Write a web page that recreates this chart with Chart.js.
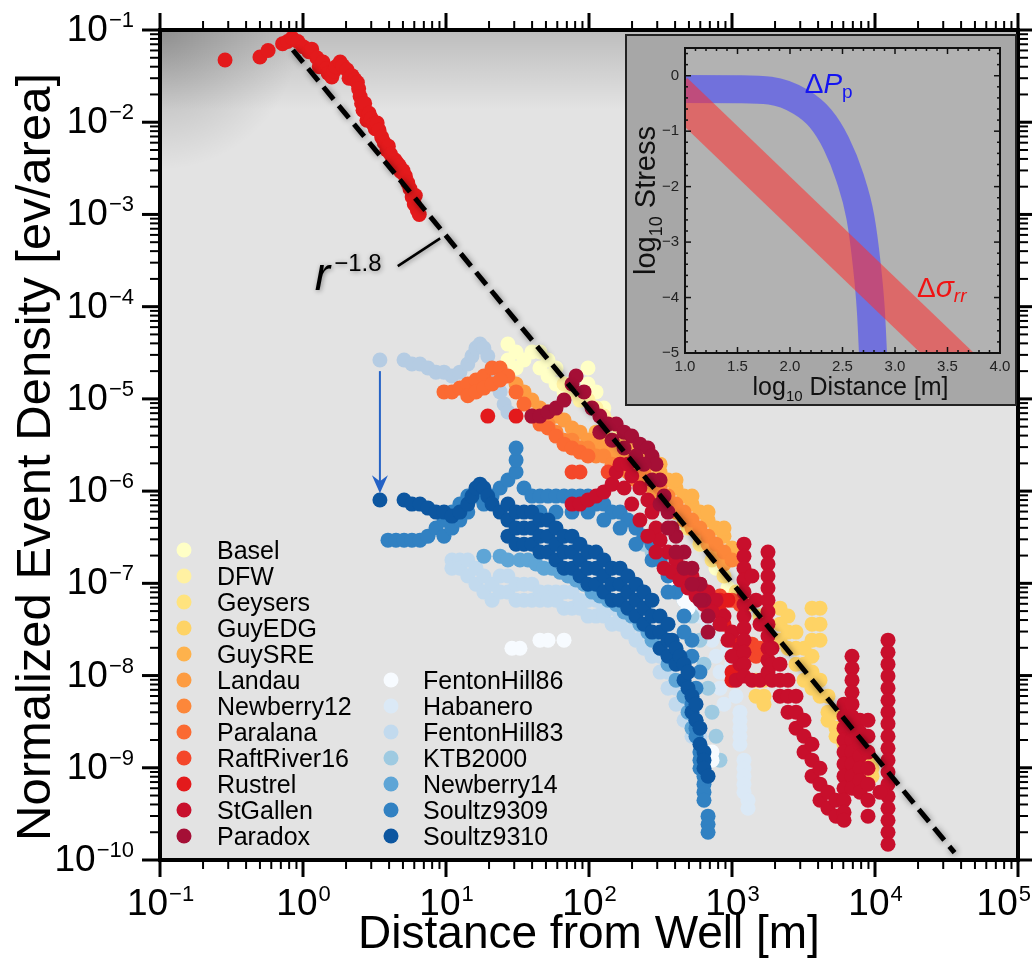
<!DOCTYPE html>
<html>
<head>
<meta charset="utf-8">
<script src="https://cdn.jsdelivr.net/npm/chart.js@4.4.1/dist/chart.umd.min.js"></script>
<style>
  html, body { margin: 0; padding: 0; background: #fff; }
  #wrap { position: relative; width: 1032px; height: 960px; }
  #main { position: absolute; left: 0; top: 0; }
  #inset { position: absolute; left: 625px; top: 34px; }
</style>
</head>
<body>
<div id="wrap">
  <canvas id="main" width="1032" height="960"></canvas>
  <canvas id="inset" width="392" height="372"></canvas>
</div>
<script>
// ---- data: [distance m, normalized event density] ----
const basel = [[27.1,3.93e-5],[27.1,2.64e-5],[30.9,3.22e-5],[30.9,2.16e-5],[35.1,2.64e-5],[39.9,3.22e-5],[45.4,3.22e-5],[45.4,2.16e-5],[51.7,2.64e-5],[51.7,1.77e-5],[58.8,2.16e-5],[58.8,1.45e-5],[66.9,1.45e-5],[66.9,1.19e-5],[98.4,2.16e-5],[98.4,1.45e-5],[112,1.19e-5],[127,7.95e-6],[165,4.36e-6],[213,2.93e-6],[276,1.61e-6],[357,8.83e-7],[462,4.85e-7],[597,2.66e-7],[773,1.46e-7],[937,8.9e-8],[1067,6.57e-8]];
const dfw = [[66.9,1.45e-5],[76.1,1.19e-5],[86.5,9.7e-6],[98.4,9.7e-6],[112,7.95e-6],[127,6.51e-6],[145,5.33e-6],[165,4.36e-6]];
const geysers = [[227,1.96e-6],[276,1.32e-6],[335,8.83e-7],[406,5.92e-7],[493,3.97e-7],[597,2.66e-7],[725,1.79e-7],[879,1.2e-7],[1067,8.03e-8],[1294,5.9e-8],[1570,4.41e-8]];
const guyEDG = [
  [2167,5.38e-8],[2167,3.61e-8],[2167,2.42e-8],
  [2464,4.41e-8],[2464,2.96e-8],[2464,1.98e-8],
  [2803,2.96e-8],[2803,1.98e-8],[2803,1.33e-8],
  [3189,1.98e-8],[3189,1.33e-8],[3189,8.91e-9],
  [3627,5.38e-8],[3627,3.61e-8],[3627,2.42e-8],[3627,1.62e-8],[3627,1.09e-8],[3627,7.3e-9],
  [4125,5.38e-8],[4125,3.61e-8],[4125,2.42e-8],[4125,8.91e-9],[4125,5.98e-9],
  [4692,5.98e-9],[4692,4.01e-9],[4692,3.28e-9],
  [5338,4.01e-9],[5338,2.69e-9],[5338,2.2e-9],
  [6071,2.69e-9],[6071,1.8e-9],[6906,1.8e-9],[6906,1.48e-9],
  [7856,1.48e-9],[7856,1.21e-9],[8935,1.21e-9],[8935,9.9e-10],[9530,9.9e-10],[9530,8.11e-10],
  [1472,8.91e-9],[1472,5.98e-9],[1674,8.91e-9],[1674,5.98e-9],[1674,4.9e-9]];
const guySRE = [[112,4.36e-6],[127,3.95e-6],[145,3.57e-6],[165,3.23e-6],[187,2.93e-6],[213,2.65e-6],[242,2.4e-6],[276,1.96e-6],[314,1.61e-6],[357,1.32e-6],[406,1.08e-6],[462,8.83e-7],[525,7.23e-7],[597,5.92e-7],[680,4.85e-7],[773,3.97e-7],[879,3.25e-7],[1000,2.41e-7],[1137,1.79e-7],
  [242,2.93e-6],[314,1.96e-6],[406,1.32e-6],[525,8.83e-7],[680,5.92e-7],[879,3.97e-7]];
const landau = [[30.9,1.45e-5],[35.1,1.19e-5],[39.9,9.7e-6],[45.4,7.95e-6],[51.7,7.2e-6],[58.8,6.51e-6],[66.9,5.89e-6],[76.1,4.83e-6],[86.5,4.36e-6],[98.4,3.57e-6],[112,3.23e-6],[127,2.93e-6],[145,2.65e-6],[165,2.4e-6],[187,2.17e-6],[213,1.96e-6],[242,1.32e-6],[276,1.08e-6],[314,8.83e-7],[357,7.23e-7],[406,5.92e-7],[462,4.85e-7],[525,3.97e-7],[597,3.25e-7],[680,2.66e-7],[773,1.97e-7],[879,1.62e-7]];
const newberry12 = [[51.7,5.33e-6],[58.8,4.36e-6],[66.9,3.57e-6],[76.1,3.57e-6],[86.5,2.93e-6],[98.4,2.93e-6],[112,2.4e-6],[127,2.4e-6],[145,1.96e-6],[165,1.96e-6],[187,1.61e-6],[213,1.32e-6],[242,1.61e-6],[276,1.32e-6],[314,1.08e-6],[357,8.83e-7],[406,7.23e-7],[462,5.92e-7],[525,4.85e-7],[597,3.97e-7],[680,3.25e-7],[773,2.66e-7],[879,2.18e-7],[1000,1.79e-7]];
const paralana = [[9.68,1.19e-5],[11.0,1.19e-5],[12.5,1.31e-5],[14.2,1.45e-5],[16.2,1.6e-5],[18.4,1.77e-5],[21.0,2.16e-5],[23.9,2.16e-5],[27.1,1.77e-5],[30.9,1.19e-5],[35.1,8.78e-6],[39.9,6.51e-6],[45.4,5.33e-6],[51.7,4.83e-6],[58.8,3.95e-6],[66.9,3.23e-6],[76.1,2.93e-6],[86.5,2.65e-6],[98.4,2.4e-6],
  [14.2,1.08e-5],[16.2,1.19e-5],[18.4,1.31e-5],[21.0,1.45e-5],[23.9,1.6e-5]];
const raftRiver16 = [[76.1,1.61e-6],[86.5,1.61e-6],[136,1.61e-6],[824,7.3e-8],[1000,6.57e-8],[1137,5.9e-8],[1380,2.19e-8],[1472,1.62e-8],[1570,1.98e-8]];
const rustrel = [[0.285,0.0473],[0.50,0.051],[0.57,0.060],[0.72,0.071],[0.78,0.075],[0.84,0.082],[0.92,0.075],[1.0,0.066],[1.1,0.058],[1.15,0.062],[1.25,0.050],[1.3,0.040],[1.38,0.045],[1.45,0.038],[1.5,0.034],[1.59,0.031],[1.65,0.036],[1.7,0.040],[1.82,0.045],[1.9,0.041],[2.03,0.037],[2.1,0.030],[2.2,0.032],[2.3,0.029],[2.4,0.027],[2.45,0.023],[2.51,0.019],[2.57,0.016],[2.63,0.0135],[2.7,0.016],[2.8,0.0105],[2.9,0.0125],[3.0,0.011],[3.1,0.0095],[3.2,0.0085],[3.3,0.0098],[3.4,0.0082],[3.55,0.0069],[3.7,0.0060],[3.86,0.0050],[3.95,0.0055],[4.1,0.0045],[4.25,0.0040],[4.4,0.0039],[4.55,0.0036],[4.7,0.0034],[4.85,0.0029],[5.0,0.0030],[5.2,0.0026],[5.4,0.0022],[5.6,0.0019],[5.8,0.00155],[6.0,0.0013],[6.1,0.0016],[6.3,0.00112],[6.5,0.0010],
  [19.6,6.51e-6],[30.9,6.51e-6],
  [725,6.57e-8],[824,6.57e-8],[937,6.57e-8],[824,4.9e-8],[879,3.61e-8],[1000,2.42e-8],[1067,1.62e-8],[1000,1.09e-8],[1000,8.91e-9]];
const stGallen = [
  [76.1,7.23e-7],[86.5,7.23e-7],[98.4,8.0e-7],[112,8.83e-7],[127,9.8e-7],[145,1.19e-6],[155,1.61e-6],[165,1.96e-6],[187,1.96e-6],[199,1.46e-6],[227,1.08e-6],[258,8.0e-7],[276,5.92e-7],[294,3.97e-7],[314,2.94e-7],[357,2.18e-7],[406,1.79e-7],[462,1.46e-7],[525,1.2e-7],[597,9.8e-8],[680,8.03e-8],[773,6.57e-8],[879,4.41e-8],[1000,2.96e-8],[1137,1.98e-8],[1137,1.33e-8],[1067,8.91e-9],
  [176,1.08e-6],[199,7.23e-7],[227,4.85e-7],[258,3.25e-7],[294,2.18e-7],[335,1.46e-7],[381,1.32e-7],[433,1.09e-7],[493,8.9e-8],[560,7.3e-8],[637,5.9e-8],[725,4.9e-8],[824,3.61e-8],[937,2.42e-8],[1000,1.62e-8],
  [1213,2.66e-7],[1213,1.97e-7],[1213,1.46e-7],[1213,1.09e-7],[1213,8.03e-8],[1213,5.9e-8],[1213,4.41e-8],[1213,3.27e-8],[1213,2.42e-8],[1213,1.79e-8],[1213,1.33e-8],[1213,9.9e-9],
  [1380,1.2e-7],[1472,6.57e-8],[1570,3.61e-8],[1380,8.91e-9],[1570,8.91e-9],
  [1785,2.18e-7],[1785,1.62e-7],[1785,1.2e-7],[1785,8.9e-8],[1785,6.57e-8],[1785,4.9e-8],[1785,3.61e-8],[1785,2.68e-8],[1785,1.98e-8],[1785,1.47e-8],[1785,1.09e-8],
  [1905,1.98e-8],[1905,1.33e-8],[1905,8.91e-9],
  [2167,1.33e-8],[2167,8.91e-9],[2167,5.98e-9],
  [2464,8.91e-9],[2464,5.98e-9],[2464,4.01e-9],
  [2803,5.98e-9],[2803,4.01e-9],[2803,2.69e-9],
  [3189,3.28e-9],[3189,2.2e-9],[3189,1.48e-9],
  [3627,1.8e-9],[3627,1.21e-9],[3627,8.11e-10],
  [4125,9.9e-10],[4125,6.64e-10],[4125,4.45e-10],
  [4692,5.44e-10],[4692,3.64e-10],[5338,4.45e-10],[5338,2.99e-10],
  [6071,4.9e-9],[6071,3.6e-9],[6071,2.69e-9],[6071,2.0e-9],[6071,1.48e-9],[6071,1.1e-9],[6071,8.11e-10],[6071,6.0e-10],[6071,4.45e-10],[6071,3.3e-10],[6071,2.7e-10],
  [6906,1.62e-8],[6906,1.2e-8],[6906,8.91e-9],[6906,6.6e-9],[6906,4.9e-9],[6906,3.6e-9],[6906,2.69e-9],[6906,2.0e-9],[6906,1.48e-9],[6906,1.1e-9],[6906,8.11e-10],[6906,6.0e-10],
  [7856,3.28e-9],[7856,2.43e-9],[7856,1.8e-9],[7856,1.34e-9],[7856,9.9e-10],[7856,7.3e-10],[7856,5.44e-10],
  [8935,3.28e-9],[8935,2.2e-9],[8935,1.48e-9],[8935,9.9e-10],[8935,6.64e-10],[8935,4.45e-10],[8935,2.99e-10],
  [12330,2.42e-8],[12330,1.79e-8],[12330,1.33e-8],[12330,9.9e-9],[12330,7.3e-9],[12330,5.4e-9],[12330,4.01e-9],[12330,3.0e-9],[12330,2.2e-9],[12330,1.63e-9],[12330,1.21e-9],[12330,9.0e-10],[12330,6.64e-10],[12330,4.9e-10],[12330,3.64e-10],[12330,2.7e-10],[12330,2.0e-10],[12330,1.48e-10],
  [10840,5.44e-10]];
const paradox = [[39.9,6.51e-6],[45.4,6.51e-6],[51.7,7.2e-6],[58.8,7.95e-6],[66.9,9.7e-6],[76.1,1.45e-5],[81.2,1.77e-5],[92.3,1.19e-5],[105,7.95e-6],[119,6.51e-6],[136,5.33e-6],[155,5.33e-6],[176,4.36e-6],[199,3.95e-6],[227,3.23e-6],[258,2.93e-6],[276,2.4e-6],[294,1.96e-6],[314,1.32e-6],[335,8.83e-7],[357,5.92e-7],[381,3.97e-7],[406,3.25e-7],[462,2.18e-7],[525,1.46e-7],[597,9.8e-8],[637,6.57e-8],[680,4.41e-8],[680,2.96e-8],
  [119,4.36e-6],[145,3.57e-6],[176,2.93e-6],[213,2.4e-6],[242,1.96e-6],[276,1.32e-6],[314,7.23e-7],[357,3.97e-7],[406,2.18e-7],[462,1.46e-7],[525,9.8e-8],[597,6.57e-8]];
const fentonHill86 = [[28.9,1.98e-8],[32.9,1.98e-8],[45.4,2.42e-8],[51.7,2.42e-8],[66.9,2.42e-8],[406,9.8e-8],[462,8.03e-8],[462,6.57e-8],[493,5.38e-8],[725,1.48e-9],[725,1.21e-9]];
const habanero = [[525,5.38e-8],[597,4.41e-8],[680,3.61e-8],[725,2.42e-8],[773,1.62e-8],[824,1.09e-8],[824,7.3e-9],[879,4.9e-9],[773,4.41e-8],[879,2.96e-8],[937,1.98e-8],[1000,1.33e-8],[1067,8.91e-9],[1067,5.98e-9],[1137,4.01e-9],[1137,3.28e-9],[1137,2.69e-9],[1137,2.2e-9],[1137,1.8e-9],[1213,1.21e-9],[1213,9.9e-10],[1213,8.11e-10],[1213,6.64e-10],[1213,5.44e-10],[1294,4.45e-10],[1294,3.64e-10]];
const fentonHill83 = [
  [11.0,1.79e-7],[11.0,1.46e-7],[12.5,1.79e-7],[12.5,1.46e-7],[14.2,1.79e-7],[14.2,1.2e-7],[16.2,1.46e-7],[16.2,9.8e-8],
  [18.4,1.2e-7],[18.4,8.03e-8],[21.0,9.8e-8],[21.0,6.57e-8],[23.9,1.2e-7],[23.9,8.03e-8],[27.1,1.2e-7],[27.1,8.03e-8],
  [30.9,9.8e-8],[30.9,6.57e-8],[35.1,9.8e-8],[35.1,6.57e-8],[39.9,9.8e-8],[39.9,6.57e-8],[45.4,8.03e-8],[45.4,6.57e-8],
  [51.7,8.03e-8],[51.7,6.57e-8],[58.8,8.03e-8],[58.8,6.57e-8],[66.9,8.03e-8],[66.9,5.38e-8],[76.1,8.03e-8],[76.1,5.38e-8],
  [86.5,6.57e-8],[86.5,5.38e-8],[98.4,6.57e-8],[98.4,4.41e-8],[112,6.57e-8],[112,4.41e-8],[127,5.38e-8],[127,4.41e-8],
  [145,5.38e-8],[145,3.61e-8],[165,4.41e-8],[165,3.61e-8],[187,4.41e-8],[187,2.96e-8],[213,3.61e-8],[213,2.42e-8],
  [242,2.96e-8],[242,1.98e-8],[276,2.42e-8],[276,1.62e-8],[314,1.62e-8],[314,1.09e-8],[357,1.09e-8],[357,7.3e-9],
  [406,7.3e-9],[406,4.9e-9],[462,4.9e-9],[462,3.28e-9],[525,3.28e-9],[525,2.2e-9],[597,2.2e-9],[597,1.48e-9]];
const ktb2000 = [[242,2.66e-7],[276,2.18e-7],[314,1.79e-7],[357,1.46e-7],[406,9.8e-8],[462,6.57e-8],[525,4.41e-8],[597,2.42e-8],[637,1.33e-8],[680,7.3e-9],[725,4.01e-9],[773,2.2e-9],[824,1.21e-9]];
const newberry14 = [[18.4,1.97e-7],[23.9,1.97e-7],[27.1,1.79e-7],[32.9,1.79e-7],[37.4,1.79e-7],[42.6,1.62e-7],[48.4,1.46e-7],[55.1,1.46e-7],[62.7,1.32e-7],[71.3,1.2e-7],[81.2,1.09e-7],[92.3,9.8e-8],[105,8.03e-8],[119,7.3e-8],[136,6.57e-8],[155,5.9e-8],[176,4.9e-8],[199,4.41e-8],[227,3.61e-8],[258,2.96e-8],[276,2.42e-8],[314,1.98e-8],[357,1.33e-8],[406,8.91e-9],[462,5.98e-9],[493,4.01e-9],[525,2.69e-9]];
const soultz9309 = [[3.93,2.94e-7],[4.47,2.94e-7],[5.09,2.94e-7],[5.78,2.94e-7],[6.58,2.94e-7],[7.48,3.25e-7],[8.51,3.97e-7],[9.68,4.85e-7],[11.0,5.92e-7],[12.5,7.23e-7],[14.2,8.83e-7],[16.2,8.83e-7],[18.4,7.23e-7],[21.0,8.83e-7],[23.9,1.08e-6],[27.1,1.32e-6],[30.9,1.61e-6],[30.9,2.17e-6],[30.9,2.93e-6],[35.1,1.08e-6],[39.9,8.83e-7],[45.4,8.83e-7],[51.7,8.83e-7],[58.8,8.83e-7],[66.9,8.83e-7],[76.1,8.83e-7],[86.5,8.83e-7],[98.4,8.83e-7],[112,7.23e-7],[127,7.23e-7],[145,5.92e-7],[165,5.92e-7],[187,4.85e-7],[213,3.97e-7],[242,3.25e-7],[276,2.66e-7],[314,1.79e-7],[357,1.2e-7],[406,8.03e-8],[462,4.41e-8],[525,2.42e-8],[597,1.09e-8],
  [9.68,3.25e-7],[11.0,3.97e-7],[12.5,4.85e-7],[14.2,5.92e-7],[45.4,5.92e-7],[58.8,5.92e-7],[76.1,5.92e-7],[98.4,5.92e-7],[127,4.85e-7],[165,3.97e-7],[213,2.66e-7],[276,1.79e-7],[357,8.03e-8],[462,2.96e-8],[525,1.62e-8],
  [560,7.3e-9],[525,4.9e-9],[560,3.28e-9],[560,2.69e-9],[560,2.2e-9],[597,1.48e-9],[597,1.21e-9],[597,9.9e-10],[637,8.11e-10],[637,6.64e-10],[637,5.44e-10],[637,4.45e-10],[680,2.99e-10],[680,2.44e-10],[680,2.0e-10]];
const soultz9310 = [[3.45,8.0e-7],[5.09,8.0e-7],[5.78,7.23e-7],[6.58,7.23e-7],[7.48,6.54e-7],[8.51,5.92e-7],[9.68,5.92e-7],[11.0,5.36e-7],[12.5,5.92e-7],[14.2,7.23e-7],[15.2,8.83e-7],[16.2,1.08e-6],[17.3,1.19e-6],[18.4,1.08e-6],[19.6,8.83e-7],[21.0,7.23e-7],[23.9,5.92e-7],
  [27.1,7.23e-7],[27.1,4.85e-7],[27.1,3.25e-7],
  [30.9,5.92e-7],[30.9,3.97e-7],[30.9,2.66e-7],
  [35.1,5.92e-7],[35.1,3.97e-7],[35.1,2.66e-7],
  [39.9,5.92e-7],[39.9,3.97e-7],[39.9,2.66e-7],
  [45.4,4.85e-7],[45.4,3.25e-7],[45.4,2.18e-7],
  [51.7,4.85e-7],[51.7,3.25e-7],[51.7,2.18e-7],
  [58.8,3.97e-7],[58.8,2.66e-7],[58.8,1.79e-7],
  [66.9,3.25e-7],[66.9,2.18e-7],[66.9,1.46e-7],
  [76.1,3.25e-7],[76.1,2.18e-7],[76.1,1.46e-7],
  [86.5,2.66e-7],[86.5,1.79e-7],[86.5,1.2e-7],
  [98.4,2.18e-7],[98.4,1.46e-7],[98.4,9.8e-8],
  [112,2.18e-7],[112,1.46e-7],[112,9.8e-8],
  [127,1.79e-7],[127,1.2e-7],[127,8.03e-8],
  [145,1.46e-7],[145,9.8e-8],[145,6.57e-8],
  [165,1.46e-7],[165,9.8e-8],[165,6.57e-8],
  [187,1.2e-7],[187,8.03e-8],[187,5.38e-8],
  [213,9.8e-8],[213,6.57e-8],[213,4.41e-8],
  [242,8.03e-8],[242,5.38e-8],[242,3.61e-8],
  [276,6.57e-8],[276,4.41e-8],[276,2.96e-8],
  [314,4.41e-8],[314,2.96e-8],[314,1.98e-8],
  [357,3.61e-8],[357,2.42e-8],[357,1.62e-8],
  [381,2.42e-8],[406,1.98e-8],[406,1.33e-8],[433,1.62e-8],[462,1.33e-8],[462,8.91e-9],[493,1.09e-8],[493,7.3e-9],[525,5.98e-9],[525,4.01e-9],[560,4.9e-9],[560,3.28e-9],[597,2.69e-9],[597,1.8e-9],[637,1.48e-9],[637,1.21e-9],[637,9.9e-10],[680,8.11e-10]];
// Soultz9310 before normalization (the arrow shows the shift)
const soultz9310Raw = [[3.45,2.64e-5],[5.09,2.64e-5],[5.78,2.39e-5],[6.58,2.39e-5],[7.48,2.16e-5],[8.51,1.95e-5],[9.68,1.95e-5],[11.0,1.77e-5],[12.5,1.95e-5],[14.2,2.39e-5],[15.2,2.91e-5],[16.2,3.56e-5],[17.3,3.93e-5],[18.4,3.56e-5],[19.6,2.91e-5],[21.0,2.16e-5],[22.4,1.6e-5],[23.9,1.19e-5],[25.5,8.78e-6],[27.1,7.2e-6]];
const fitLine = [[0.85,0.0607],[3.6e4,1.2e-10]];
const shiftArrow = [[3.45,2.0e-5],[3.45,9.5e-7]];
const fitLeader = [[4.6,2.75e-4],[9.1,5.5e-4]];
const fitLabelAt = [1.21,1.5e-4];

// inset: [log10 distance, log10 stress]
const porePressure = [[0.9,-0.24],[1.0,-0.24],[1.5,-0.245],[1.81,-0.27],[2.1,-0.47],[2.29,-0.77],[2.44,-1.22],[2.57,-1.83],[2.67,-2.55],[2.73,-3.39],[2.77,-4.23],[2.79,-5.0],[2.8,-5.5]];
const radialStress = [[0.9,-0.28],[3.8,-5.55]];
const insetXTicks = [1.0,1.5,2.0,2.5,3.0,3.5,4.0];
const insetYTicks = [0,-1,-2,-3,-4,-5];

const xDecades = [-1,0,1,2,3,4,5];
const yDecades = [-10,-9,-8,-7,-6,-5,-4,-3,-2,-1];

const FONT = '"Liberation Sans", Arial, Helvetica, sans-serif';

const series = [
  {label:'Basel', color:'#ffffc6', pts:basel},
  {label:'DFW', color:'#fff1a2', pts:dfw},
  {label:'Geysers', color:'#ffe37e', pts:geysers},
  {label:'GuyEDG', color:'#fed365', pts:guyEDG},
  {label:'GuySRE', color:'#feb24c', pts:guySRE},
  {label:'Landau', color:'#fd9c42', pts:landau},
  {label:'Newberry12', color:'#fc873a', pts:newberry12},
  {label:'Paralana', color:'#fb6a32', pts:paralana},
  {label:'RaftRiver16', color:'#f4472a', pts:raftRiver16},
  {label:'Rustrel', color:'#e31a1c', pts:rustrel},
  {label:'StGallen', color:'#c80f2c', pts:stGallen},
  {label:'Paradox', color:'#a50f36', pts:paradox},
  {label:'FentonHill86', color:'#f7fbff', pts:fentonHill86},
  {label:'Habanero', color:'#dbe9f6', pts:habanero},
  {label:'FentonHill83', color:'#c2daee', pts:fentonHill83},
  {label:'KTB2000', color:'#9ecae1', pts:ktb2000},
  {label:'Newberry14', color:'#5ea5d6', pts:newberry14},
  {label:'Soultz9309', color:'#3181c2', pts:soultz9309},
  {label:'Soultz9310', color:'#0c56a0', pts:soultz9310}
];
// drawn on top first
const stacking = ['Paradox','StGallen','Rustrel','RaftRiver16','Paralana','Newberry12','Landau','GuySRE','GuyEDG','Geysers','DFW','Basel',
  'Soultz9310','Soultz9309','Newberry14','FentonHill86','KTB2000','FentonHill83','Habanero','raw'];

const toXY = a => a.map(p => ({x: p[0], y: p[1]}));

const datasets = [{
  label: 'fit', data: toXY(fitLine), showLine: true, borderColor: '#000', borderWidth: 5,
  borderDash: [16, 8], pointRadius: 0, order: 0
}];
series.forEach(s => {
  datasets.push({
    label: s.label, data: toXY(s.pts), backgroundColor: s.color, borderWidth: 0,
    pointRadius: 7.5, pointHoverRadius: 7.5, order: stacking.indexOf(s.label) + 1
  });
});
datasets.push({
  label: 'raw', data: toXY(soultz9310Raw), backgroundColor: '#b5cce3', borderWidth: 0,
  pointRadius: 7.5, order: stacking.indexOf('raw') + 1
});

function drawPow(ctx, x, y, e, align, maxRight) {
  const base = '10', ex = e < 0 ? '\u2212' + (-e) : String(e);
  ctx.font = '37px ' + FONT;
  const wb = ctx.measureText(base).width;
  ctx.font = '22px ' + FONT;
  const we = ctx.measureText(ex).width;
  let x0 = align === 'center' ? x - (wb + we) / 2 : x - (wb + we);
  if (maxRight && x0 + wb + we > maxRight) x0 = maxRight - wb - we;
  ctx.textAlign = 'left';
  ctx.textBaseline = 'alphabetic';
  ctx.font = '37px ' + FONT;
  ctx.fillText(base, x0, y);
  ctx.font = '22px ' + FONT;
  ctx.fillText(ex, x0 + wb + 1, y - 14);
}

const mainDecor = {
  id: 'mainDecor',
  beforeDraw(chart) {
    const {ctx, chartArea: a} = chart;
    const w = a.right - a.left, h = a.bottom - a.top;
    ctx.save();
    ctx.fillStyle = '#fff';
    ctx.fillRect(0, 0, chart.width, chart.height);
    ctx.fillStyle = '#e3e3e3';
    ctx.fillRect(a.left, a.top, w, h);
    const g = ctx.createLinearGradient(0, a.top, 0, a.top + 80);
    g.addColorStop(0, 'rgba(0,0,0,0.17)');
    g.addColorStop(1, 'rgba(0,0,0,0)');
    ctx.fillStyle = g;
    ctx.fillRect(a.left, a.top, w, 80);
    const r = ctx.createRadialGradient(a.left, a.top, 0, a.left, a.top, 140);
    r.addColorStop(0, 'rgba(0,0,0,0.25)');
    r.addColorStop(1, 'rgba(0,0,0,0)');
    ctx.fillStyle = r;
    ctx.fillRect(a.left, a.top, 140, 140);
    ctx.restore();
  },
  beforeDatasetDraw(chart, args) {
    if (chart.data.datasets[args.index].label === 'fit') {
      chart.ctx.save();
      chart.ctx.shadowColor = 'rgba(0,0,0,0.45)';
      chart.ctx.shadowBlur = 6;
      chart.ctx.shadowOffsetX = 1;
      chart.ctx.shadowOffsetY = 1;
    }
  },
  afterDatasetDraw(chart, args) {
    if (chart.data.datasets[args.index].label === 'fit') chart.ctx.restore();
  },
  afterDatasetsDraw(chart) {
    const {ctx, scales: {x, y}} = chart;
    // normalization arrow
    const ax = x.getPixelForValue(shiftArrow[0][0]);
    const ay0 = y.getPixelForValue(shiftArrow[0][1]);
    const ay1 = y.getPixelForValue(shiftArrow[1][1]);
    ctx.save();
    ctx.strokeStyle = '#2462c6';
    ctx.fillStyle = '#2462c6';
    ctx.lineWidth = 2;
    ctx.beginPath(); ctx.moveTo(ax, ay0); ctx.lineTo(ax, ay1 - 10); ctx.stroke();
    ctx.beginPath();
    ctx.moveTo(ax, ay1);
    ctx.lineTo(ax - 8, ay1 - 18);
    ctx.lineTo(ax, ay1 - 12);
    ctx.lineTo(ax + 8, ay1 - 18);
    ctx.closePath(); ctx.fill();
    ctx.restore();

    // fit annotation
    ctx.save();
    ctx.shadowColor = 'rgba(0,0,0,0.4)';
    ctx.shadowBlur = 5;
    ctx.shadowOffsetX = 1; ctx.shadowOffsetY = 1;
    ctx.strokeStyle = '#000';
    ctx.lineWidth = 2.5;
    ctx.beginPath();
    ctx.moveTo(x.getPixelForValue(fitLeader[0][0]), y.getPixelForValue(fitLeader[0][1]));
    ctx.lineTo(x.getPixelForValue(fitLeader[1][0]), y.getPixelForValue(fitLeader[1][1]));
    ctx.stroke();
    const lx = x.getPixelForValue(fitLabelAt[0]), ly = y.getPixelForValue(fitLabelAt[1]);
    ctx.fillStyle = '#000';
    ctx.textAlign = 'left';
    ctx.textBaseline = 'alphabetic';
    ctx.font = 'italic 46px ' + FONT;
    ctx.fillText('r', lx, ly);
    const rw = ctx.measureText('r').width;
    ctx.font = '24px ' + FONT;
    ctx.fillText('\u22121.8', lx + rw + 4, ly - 19);
    ctx.restore();
  },
  afterDraw(chart) {
    const {ctx, chartArea: a, scales: {x, y}} = chart;
    ctx.save();
    ctx.strokeStyle = '#000';
    ctx.fillStyle = '#000';
    const tick = (x1, y1, x2, y2, lw) => { ctx.lineWidth = lw; ctx.beginPath(); ctx.moveTo(x1, y1); ctx.lineTo(x2, y2); ctx.stroke(); };
    xDecades.forEach(e => {
      const v = Math.pow(10, e);
      const px = x.getPixelForValue(v);
      tick(px, a.bottom, px, a.bottom + 17, 3);
      tick(px, a.top, px, a.top - 17, 3);
      if (e < 5) for (let m = 2; m <= 9; m++) {
        const mx = x.getPixelForValue(m * v);
        tick(mx, a.bottom, mx, a.bottom + 9, 2);
        tick(mx, a.top, mx, a.top - 9, 2);
      }
    });
    yDecades.forEach(e => {
      const v = Math.pow(10, e);
      const py = y.getPixelForValue(v);
      tick(a.left, py, a.left - 18, py, 3);
      tick(a.right, py, a.right + 18, py, 3);
      if (e < -1) for (let m = 2; m <= 9; m++) {
        const my = y.getPixelForValue(m * v);
        tick(a.left, my, a.left - 10, my, 2);
        tick(a.right, my, a.right + 10, my, 2);
      }
    });
    ctx.lineWidth = 4;
    ctx.strokeRect(a.left, a.top, a.right - a.left, a.bottom - a.top);

    xDecades.forEach(e => drawPow(ctx, x.getPixelForValue(Math.pow(10, e)), a.bottom + 55, e, 'center', 1030));
    yDecades.forEach(e => drawPow(ctx, a.left - 27, y.getPixelForValue(Math.pow(10, e)) + 11, e, 'right'));

    ctx.textAlign = 'center';
    ctx.textBaseline = 'alphabetic';
    ctx.font = '46px ' + FONT;
    ctx.fillText('Distance from Well [m]', (a.left + a.right) / 2, 948);
    ctx.save();
    ctx.translate(50, (a.top + a.bottom) / 2 + 12);
    ctx.rotate(-Math.PI / 2);
    ctx.font = '49px ' + FONT;
    ctx.fillText('Normalized Event Density [ev/area]', 0, 0);
    ctx.restore();

    // legend
    ctx.font = '25px ' + FONT;
    ctx.textAlign = 'left';
    series.forEach((s, i) => {
      const col2 = i >= 12;
      const row = col2 ? i - 12 + 5 : i;
      const cy = 550 + row * 26;
      const mx = col2 ? 391 : 184;
      ctx.fillStyle = s.color;
      ctx.beginPath(); ctx.arc(mx, cy, 7.5, 0, Math.PI * 2); ctx.fill();
      ctx.fillStyle = '#000';
      ctx.fillText(s.label, col2 ? 423 : 217, cy + 9);
    });
    ctx.restore();
  }
};

new Chart(document.getElementById('main'), {
  type: 'scatter',
  data: {datasets},
  options: {
    responsive: false, animation: false, devicePixelRatio: 1,
    layout: {padding: {left: 160, top: 30, right: 14, bottom: 100}},
    scales: {
      x: {type: 'logarithmic', min: 0.1, max: 1e5, display: false},
      y: {type: 'logarithmic', min: 1e-10, max: 0.1, display: false}
    },
    plugins: {legend: {display: false}, tooltip: {enabled: false}}
  },
  plugins: [mainDecor]
});

// ---- inset ----
function drawSub(ctx, parts, x, y) {
  let cx = x;
  parts.forEach(p => {
    ctx.font = (p[2] || '') + ' ' + p[1] + 'px ' + FONT;
    ctx.fillText(p[0], cx, y + (p[3] || 0));
    cx += ctx.measureText(p[0]).width;
  });
  return cx - x;
}
function measureSub(ctx, parts) {
  let w = 0;
  parts.forEach(p => { ctx.font = (p[2] || '') + ' ' + p[1] + 'px ' + FONT; w += ctx.measureText(p[0]).width; });
  return w;
}

const insetDecor = {
  id: 'insetDecor',
  beforeDraw(chart) {
    const {ctx, chartArea: a} = chart;
    ctx.save();
    ctx.fillStyle = '#a7a7a7';
    ctx.fillRect(0, 0, chart.width, chart.height);
    ctx.fillStyle = '#b2b2b2';
    ctx.fillRect(a.left, a.top, a.right - a.left, a.bottom - a.top);
    ctx.restore();
  },
  afterDraw(chart) {
    const {ctx, chartArea: a, scales: {x, y}} = chart;
    ctx.save();
    ctx.strokeStyle = '#111';
    ctx.fillStyle = '#111';
    const tick = (x1, y1, x2, y2, lw) => { ctx.lineWidth = lw; ctx.beginPath(); ctx.moveTo(x1, y1); ctx.lineTo(x2, y2); ctx.stroke(); };
    for (let i = 0; i <= 30; i++) {
      const px = x.getPixelForValue(1 + i * 0.1);
      const len = i % 5 === 0 ? 6 : 3;
      tick(px, a.bottom, px, a.bottom - len, 1.5);
      tick(px, a.top, px, a.top + len, 1.5);
    }
    for (let i = 0; i <= 27; i++) {
      const py = y.getPixelForValue(-5 + i * 0.2);
      const len = i % 5 === 0 ? 6 : 3;
      tick(a.left, py, a.left + len, py, 1.5);
      tick(a.right, py, a.right - len, py, 1.5);
    }
    ctx.lineWidth = 2;
    ctx.strokeRect(a.left, a.top, a.right - a.left, a.bottom - a.top);

    ctx.fillStyle = '#222';
    ctx.font = '15px ' + FONT;
    ctx.textAlign = 'center';
    ctx.textBaseline = 'alphabetic';
    insetXTicks.forEach(v => ctx.fillText(v.toFixed(1), x.getPixelForValue(v), a.bottom + 18));
    ctx.textAlign = 'right';
    ctx.textBaseline = 'middle';
    insetYTicks.forEach(v => ctx.fillText(v < 0 ? '\u2212' + (-v) : '0', a.left - 6, y.getPixelForValue(v)));

    ctx.fillStyle = '#111';
    ctx.textAlign = 'left';
    ctx.textBaseline = 'alphabetic';
    const xt = [['log', 25], ['10', 15, '', 6], [' Distance [m]', 25]];
    const xw = measureSub(ctx, xt);
    drawSub(ctx, xt, (a.left + a.right) / 2 - xw / 2 + 8, 361);
    const yt = [['log', 29], ['10', 18, '', 7], [' Stress', 29]];
    const yw = measureSub(ctx, yt);
    ctx.save();
    ctx.translate(30, (a.top + a.bottom) / 2);
    ctx.rotate(-Math.PI / 2);
    drawSub(ctx, yt, -yw / 2, 0);
    ctx.restore();

    ctx.fillStyle = '#1414f0';
    drawSub(ctx, [['\u0394', 28], ['P', 28, 'italic'], ['p', 19, '', 5]],
      x.getPixelForValue(2.14), y.getPixelForValue(-0.31));
    ctx.fillStyle = '#f01414';
    drawSub(ctx, [['\u0394', 28], ['\u03c3', 30, 'italic'], ['rr', 19, 'italic', 5]],
      x.getPixelForValue(3.21), y.getPixelForValue(-3.99));

    ctx.strokeStyle = '#222';
    ctx.lineWidth = 2;
    ctx.strokeRect(1, 1, chart.width - 2, chart.height - 2);
    ctx.restore();
  }
};

new Chart(document.getElementById('inset'), {
  type: 'scatter',
  data: {datasets: [
    {label: 'sigma_rr', data: toXY(radialStress), showLine: true, borderColor: 'rgba(255,45,45,0.55)',
     borderWidth: 37, pointRadius: 0, borderCapStyle: 'butt', clip: 0},
    {label: 'Pp', data: toXY(porePressure), showLine: true, borderColor: 'rgba(60,60,255,0.55)',
     borderWidth: 28, pointRadius: 0, cubicInterpolationMode: 'monotone', borderCapStyle: 'butt',
     borderJoinStyle: 'round', clip: 0}
  ]},
  options: {
    responsive: false, animation: false, devicePixelRatio: 1,
    layout: {padding: {left: 60, top: 14, right: 17, bottom: 53}},
    scales: {
      x: {type: 'linear', min: 1, max: 4, display: false},
      y: {type: 'linear', min: -5, max: 0.5, display: false}
    },
    plugins: {legend: {display: false}, tooltip: {enabled: false}}
  },
  plugins: [insetDecor]
});
</script>
</body>
</html>
